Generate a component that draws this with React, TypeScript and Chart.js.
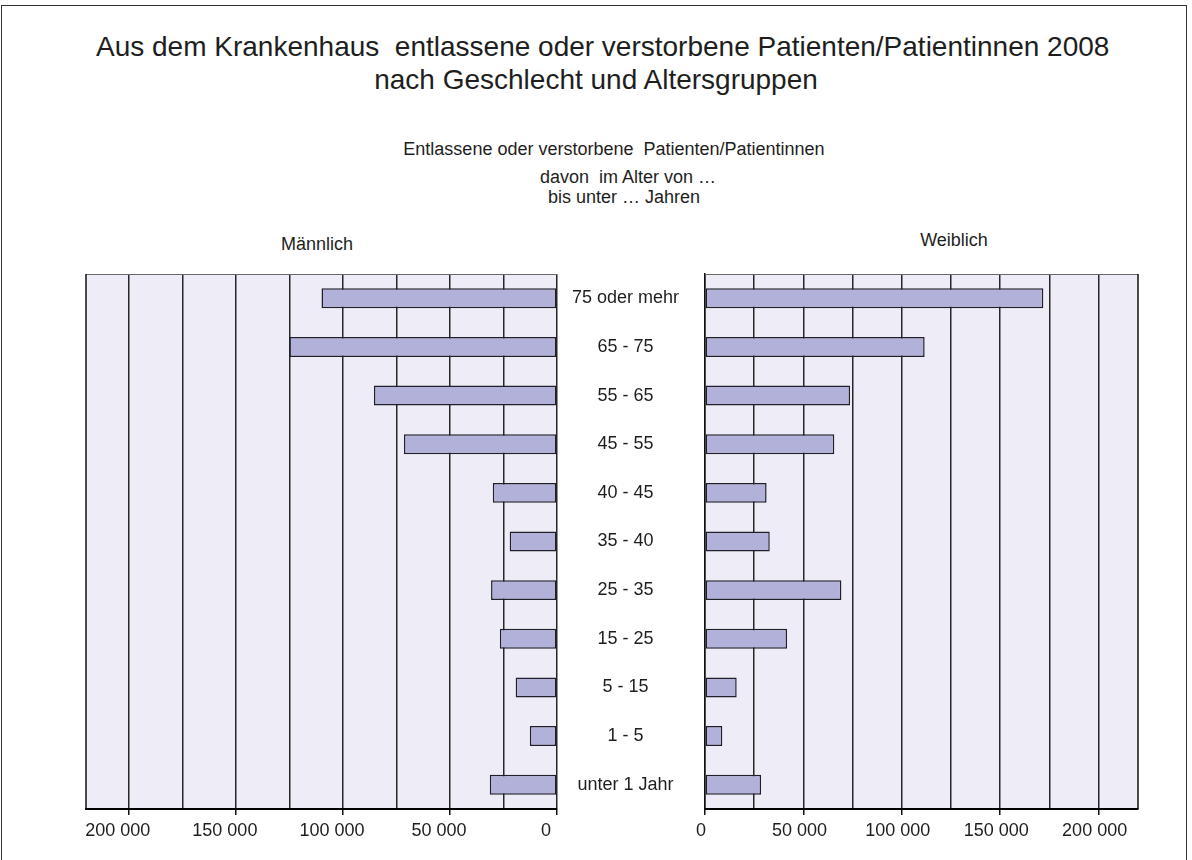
import React, { useEffect, useRef } from "react";
import { Chart, registerables } from "chart.js";

Chart.register(...registerables);

// ---- data ----
const categories: string[] = [
  "75 oder mehr",
  "65 - 75",
  "55 - 65",
  "45 - 55",
  "40 - 45",
  "35 - 40",
  "25 - 35",
  "15 - 25",
  "5 - 15",
  "1 - 5",
  "unter 1 Jahr",
];
const maleValues: number[] = [110000, 125000, 85500, 71500, 30000, 22100, 30800, 26700, 19300, 12700, 31400];
const femaleValues: number[] = [171900, 111600, 73700, 65700, 31300, 32900, 69300, 41700, 16100, 8800, 28500];
const axisMax = 220000;
const gridValues: number[] = [0, 25000, 50000, 75000, 100000, 125000, 150000, 175000, 200000];
const labelStep = 50000;

const titleLines: string[] = [
  "Aus dem Krankenhaus  entlassene oder verstorbene Patienten/Patientinnen 2008",
  "nach Geschlecht und Altersgruppen",
];
const subtitle = "Entlassene oder verstorbene  Patienten/Patientinnen";
const ageNoteLines: string[] = ["davon  im Alter von \u2026", "bis unter \u2026 Jahren"];
const maleLabel = "Männlich";
const femaleLabel = "Weiblich";

// ---- style ----
const FONT = "'Liberation Sans', Arial, Helvetica, sans-serif";
const TEXT = "#1e1e1e";
const PLOT_BG = "#eeedf7";
const BAR_FILL = "#b1b1d9";
const BAR_EDGE = "#1f1f2a";
const GRID = "#262626";
const W = 1192;
const H = 860;

const fmt = (v: number) => String(Math.round(v)).replace(/\B(?=(\d{3})+(?!\d))/g, " ");

const framePlugin = (side: "left" | "right") => ({
  id: "plotFrame_" + side,
  beforeDraw(chart: any) {
    const { ctx, chartArea: a } = chart;
    ctx.save();
    ctx.fillStyle = PLOT_BG;
    ctx.fillRect(a.left, a.top, a.right - a.left, a.bottom - a.top);
    ctx.restore();
  },
  afterDraw(chart: any) {
    const { ctx, chartArea: a } = chart;
    ctx.save();
    ctx.strokeStyle = "#6a6a6a";
    ctx.lineWidth = 1;
    ctx.beginPath();
    ctx.moveTo(a.left, a.top + 0.5);
    ctx.lineTo(a.right, a.top + 0.5);
    ctx.stroke();
    ctx.strokeStyle = "#111";
    ctx.lineWidth = 1.5;
    ctx.beginPath();
    const x = side === "left" ? a.left : a.right;
    ctx.moveTo(x, a.top);
    ctx.lineTo(x, a.bottom);
    ctx.stroke();
    ctx.restore();
  },
});

function xScale(reverse: boolean, labelOffset: number) {
  return {
    type: "linear" as const,
    reverse,
    min: 0,
    max: axisMax,
    afterBuildTicks: (s: any) => {
      s.ticks = gridValues.map((v) => ({ value: v }));
    },
    afterFit: (s: any) => {
      s.height = 51;
    },
    grid: {
      color: GRID,
      lineWidth: 1.5,
      drawTicks: true,
      tickLength: 6,
      tickWidth: 1.5,
      tickColor: (c: any) => (c.tick && c.tick.value % labelStep === 0 ? "#111" : "rgba(0,0,0,0)"),
    },
    border: { display: true, color: "#000", width: 2 },
    ticks: {
      autoSkip: false,
      maxRotation: 0,
      minRotation: 0,
      padding: 5,
      labelOffset,
      color: TEXT,
      font: { family: FONT, size: 18 },
      callback: (v: any) => (Number(v) % labelStep === 0 ? fmt(Number(v)) : ""),
    },
  };
}

export default function App() {
  const leftRef = useRef<HTMLCanvasElement | null>(null);
  const rightRef = useRef<HTMLCanvasElement | null>(null);

  useEffect(() => {
    const common = {
      responsive: false,
      animation: false as const,
      devicePixelRatio: 1,
      indexAxis: "y" as const,
      events: [] as any[],
      plugins: { legend: { display: false }, tooltip: { enabled: false }, title: { display: false } },
    };
    const barDs = (data: number[]) => ({
      data,
      backgroundColor: BAR_FILL,
      borderColor: BAR_EDGE,
      borderWidth: 1.5,
      borderSkipped: false as const,
      barPercentage: 0.41,
      categoryPercentage: 1,
    });

    const left = new Chart(leftRef.current as HTMLCanvasElement, {
      type: "bar",
      data: { labels: categories, datasets: [barDs(maleValues)] },
      options: {
        ...common,
        layout: { padding: { left: 86, right: W - 557, top: 274, bottom: 0 } },
        scales: {
          x: xScale(true, -11),
          y: { type: "category", display: false, offset: true },
        },
      } as any,
      plugins: [framePlugin("left")],
    });

    const right = new Chart(rightRef.current as HTMLCanvasElement, {
      type: "bar",
      data: { labels: categories, datasets: [barDs(femaleValues)] },
      options: {
        ...common,
        layout: { padding: { left: 557, right: W - 1138, top: 274, bottom: 0 } },
        scales: {
          x: xScale(false, -4),
          y: {
            type: "category",
            position: "left",
            offset: true,
            afterFit: (s: any) => {
              s.width = 148;
            },
            grid: { display: false, drawTicks: false },
            border: { display: true, color: "#111", width: 1.5 },
            ticks: {
              crossAlign: "center",
              padding: 26,
              color: TEXT,
              font: { family: FONT, size: 18 },
            },
          },
        },
      } as any,
      plugins: [framePlugin("right")],
    });

    return () => {
      left.destroy();
      right.destroy();
    };
  }, []);

  const txt = (content: string, cx: number, cy: number, size: number, extra: any = {}) => (
    <div
      style={{
        position: "absolute",
        left: cx - 500,
        top: cy - size * 0.6,
        width: 1000,
        height: size * 1.2,
        lineHeight: `${size * 1.2}px`,
        fontSize: size,
        fontFamily: FONT,
        color: TEXT,
        textAlign: "center",
        whiteSpace: "pre",
        ...extra,
      }}
    >
      {content}
    </div>
  );

  return (
    <div
      style={{
        position: "absolute",
        left: 0,
        top: 0,
        width: W,
        height: H,
        overflow: "hidden",
        background: "#fff",
      }}
    >
      <div
        style={{
          position: "absolute",
          left: 1,
          top: 5,
          width: 1186,
          height: 900,
          border: "1.5px solid #333",
          boxSizing: "border-box",
        }}
      />
      {txt(titleLines[0], 596, 47, 28)}
      {txt(titleLines[1], 596, 80, 28)}
      {txt(subtitle, 614, 150, 18)}
      {txt(ageNoteLines[0], 628, 178, 18)}
      {txt(ageNoteLines[1], 624, 198, 18)}
      {txt(maleLabel, 317, 245, 18)}
      {txt(femaleLabel, 954, 241, 18)}
      <canvas ref={leftRef} width={W} height={H} style={{ position: "absolute", left: 0, top: 0 }} />
      <canvas ref={rightRef} width={W} height={H} style={{ position: "absolute", left: 0, top: 0 }} />
    </div>
  );
}
